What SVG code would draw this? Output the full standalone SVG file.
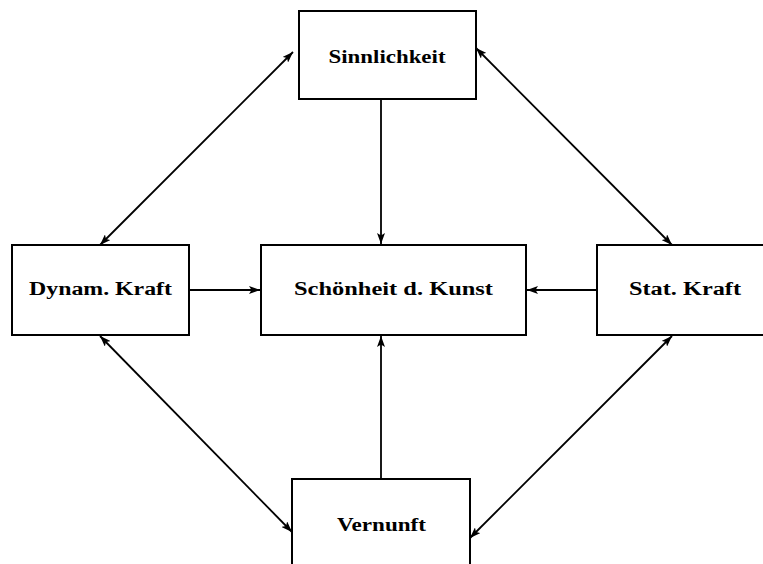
<svg xmlns="http://www.w3.org/2000/svg" width="763" height="564" viewBox="0 0 763 564">
  <style>
    .box { fill: #ffffff; stroke: #000000; stroke-width: 2; }
    .lbl { font-family: "Liberation Serif", "DejaVu Serif", serif; font-weight: bold; font-size: 18px; fill: #000000; text-anchor: middle; }
    .edge { fill: none; stroke: #000000; stroke-width: 1.8; }
  </style>
  <defs>
    <marker id="arr" viewBox="0 0 11 8" refX="11" refY="4" markerWidth="11" markerHeight="8" markerUnits="userSpaceOnUse" orient="auto-start-reverse">
      <path d="M0,0 L11,4 L0,8 L2.5,4 Z" fill="#000000"/>
    </marker>
  </defs>

  <rect width="763" height="564" fill="#ffffff"/>

  <!-- connectors -->
  <g id="edges">
    <line class="edge" x1="381" y1="99" x2="381" y2="244" marker-end="url(#arr)"/>
    <line class="edge" x1="381" y1="479" x2="381" y2="336" marker-end="url(#arr)"/>
    <line class="edge" x1="189" y1="290" x2="260" y2="290" marker-end="url(#arr)"/>
    <line class="edge" x1="597" y1="290" x2="527" y2="290" marker-end="url(#arr)"/>
    <line class="edge" x1="100" y1="245" x2="293" y2="52" marker-start="url(#arr)" marker-end="url(#arr)"/>
    <line class="edge" x1="476" y1="48" x2="672" y2="245" marker-start="url(#arr)" marker-end="url(#arr)"/>
    <line class="edge" x1="100" y1="336" x2="292" y2="532" marker-start="url(#arr)" marker-end="url(#arr)"/>
    <line class="edge" x1="672" y1="336" x2="470" y2="538" marker-start="url(#arr)" marker-end="url(#arr)"/>
  </g>

  <g id="sinnlichkeit">
    <rect class="box" x="299" y="11" width="177" height="88"/>
    <text class="lbl" x="387" y="63" textLength="117" lengthAdjust="spacingAndGlyphs">Sinnlichkeit</text>
  </g>

  <g id="dynam-kraft">
    <rect class="box" x="12" y="245" width="177" height="90"/>
    <text class="lbl" x="100.5" y="295" textLength="143" lengthAdjust="spacingAndGlyphs">Dynam. Kraft</text>
  </g>

  <g id="schoenheit">
    <rect class="box" x="261" y="245" width="265" height="90"/>
    <text class="lbl" x="393.5" y="295" textLength="199" lengthAdjust="spacingAndGlyphs">Schönheit d. Kunst</text>
  </g>

  <g id="stat-kraft">
    <rect class="box" x="597" y="245" width="170" height="90"/>
    <text class="lbl" x="685" y="295" textLength="112" lengthAdjust="spacingAndGlyphs">Stat. Kraft</text>
  </g>

  <g id="vernunft">
    <rect class="box" x="292" y="479" width="178" height="90"/>
    <text class="lbl" x="381.5" y="531" textLength="89" lengthAdjust="spacingAndGlyphs">Vernunft</text>
  </g>
</svg>
